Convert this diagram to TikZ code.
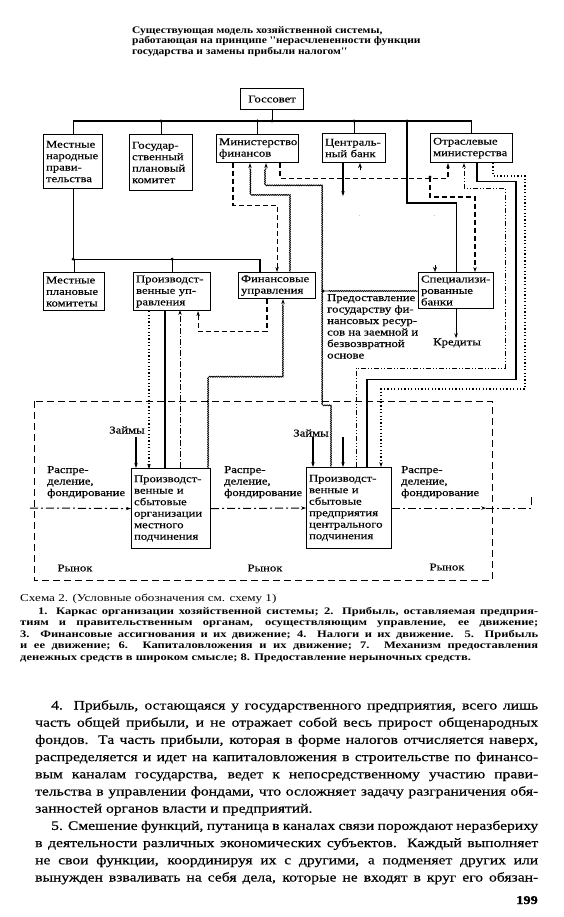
\documentclass[tikz,border=0pt]{standalone}
\usepackage{fontspec}
\setmainfont{Liberation Serif}
\newfontfamily\bxf[FakeStretch=1.22,FakeBold=0.3]{Liberation Serif}
\newfontfamily\ttlf[FakeStretch=1.15]{Liberation Serif}
\newfontfamily\capf[FakeStretch=1.25]{Liberation Serif}
\newfontfamily\bodyf[FakeStretch=1.2,FakeBold=0.4]{Liberation Serif}
\usetikzlibrary{arrows.meta,decorations.pathmorphing,calc}
\begin{document}
\begin{tikzpicture}[x=1pt,y=-1pt, >={Stealth[length=5pt,width=3.4pt]},
 frame/.style={line width=1.1pt},
 alloc/.style={line width=1.1pt, dash pattern=on 5pt off 3pt},
 tax/.style={line width=0.8pt, decorate, decoration={snake,amplitude=0.5pt,segment length=2.2pt,pre length=1pt,post length=5pt}},
 credit/.style={double, double distance=1.3pt, line width=0.6pt, dash pattern=on 5pt off 2.5pt},
 capinv/.style={line width=0.8pt, dash pattern=on 5pt off 2pt on 1pt off 2pt on 1pt off 2pt},
 profit/.style={line width=0.9pt, dash pattern=on 6pt off 2pt on 1.2pt off 2pt},
 nonm/.style={line width=1.3pt, dash pattern=on 1.2pt off 2.2pt},
 market/.style={line width=1pt, dash pattern=on 7pt off 4pt},
 distr/.style={line width=1pt, dash pattern=on 8pt off 3pt on 2pt off 3pt},
 box/.style={draw, line width=1.1pt, anchor=north west, inner xsep=2.5pt, inner ysep=1.5pt, align=left, font=\bxf\fontsize{10.4}{11.5}\selectfont},
 lbl/.style={font=\bxf\fontsize{10.4}{11.5}\selectfont, align=left, inner sep=0pt},
]
\useasboundingbox (0,0) rectangle (563,917);
\fill[white] (0,0) rectangle (563,917);

% title
\node[anchor=north west, inner sep=0pt, align=left, font=\ttlf\bfseries\fontsize{10}{10.5}\selectfont] (title) at (132,26)
 {Существующая модель хозяйственной системы,\\работающая на принципе ''нерасчлененности функции\\государства и замены прибыли налогом''};

% boxes
\node[box, text width=58pt, minimum height=21pt, align=center] (gossovet) at (240,88) {Госсовет};
\node[box, text width=54pt, minimum height=54pt] (mnp) at (43,134) {Местные\\народные\\прави-\\тельства};
\node[box, text width=58pt, minimum height=56pt] (gpk) at (129,134) {Государ-\\ственный\\плановый\\комитет};
\node[box, text width=77pt, minimum height=28pt] (minfin) at (216,134) {Министерство\\финансов};
\node[box, text width=58pt, minimum height=29pt] (cb) at (322,133) {Централь-\\ный банк};
\node[box, text width=77pt, minimum height=29pt] (otr) at (430,133) {Отраслевые\\министерства};
\node[box, text width=56pt, minimum height=38pt] (mpk) at (43,272) {Местные\\плановые\\комитеты};
\node[box, text width=72pt, minimum height=38pt] (pu) at (133,272) {Производст-\\венные уп-\\равления};
\node[box, text width=72pt, minimum height=26pt] (fu) at (238,272) {Финансовые\\управления};
\node[box, text width=70pt, minimum height=36pt] (sb) at (418,272) {Специализи-\\рованные\\банки};
\node[box, text width=74pt, minimum height=80pt] (loc) at (131,468) {Производст-\\венные и\\сбытовые\\организации\\местного\\подчинения};
\node[box, text width=80pt, minimum height=81pt] (cen) at (306,467) {Производст-\\венные и\\сбытовые\\предприятия\\центрального\\подчинения};

% labels
\node[lbl, anchor=north west] (prov) at (327,294) {Предоставление\\государству фи-\\нансовых ресур-\\сов на заемной и\\безвозвратной\\основе};
\node[lbl] (kred) at (457,343) {Кредиты};
\node[lbl] (zaim1) at (127,430) {Займы};
\node[lbl] (zaim2) at (311,433) {Займы};
\node[lbl, anchor=north west] (rasp1) at (47,466) {Распре-\\деление,\\фондирование};
\node[lbl, anchor=north west] (rasp2) at (224,466) {Распре-\\деление,\\фондирование};
\node[lbl, anchor=north west] (rasp3) at (401,466) {Распре-\\деление,\\фондирование};
\node[lbl] (ryn1) at (75,568) {Рынок};
\node[lbl] (ryn2) at (265,568) {Рынок};
\node[lbl] (ryn3) at (447,567) {Рынок};

% market frame
\draw[market] (34,401) rectangle (492,580);

% framework lines
\coordinate (bus) at (272,121);
\draw[frame] (mnp.north) |- (bus) -| (otr.north);
\draw[frame] (gossovet.south) -- (gossovet.south |- bus);
\draw[frame] (gpk.north) -- (gpk.north |- bus);
\draw[frame] (minfin.north) -- (minfin.north |- bus);
\draw[frame] (cb.north) -- (cb.north |- bus);
\coordinate (j407) at (407,121);
\draw[frame] (j407) -- ++(0,82) -| (sb.north);
\fill (gpk.north |- bus) circle (1.6pt);
\fill (minfin.north |- bus) circle (1.6pt);
\fill (bus) circle (1.6pt);
\fill (cb.north |- bus) circle (1.6pt);
\fill (j407) circle (1.6pt);
\coordinate (lbus) at ($(mnp.south)+(0,70)$);
\draw[frame] (mnp.south) -- (lbus) -| ($(fu.north west)+(22,0)$);
\draw[frame] (mpk.north) -- (mpk.north |- lbus);
\draw[frame] (pu.north) -- (pu.north |- lbus);
\fill (lbus) circle (1.6pt);
\fill (pu.north |- lbus) circle (1.6pt);
\draw[frame] ($(pu.south west)+(32,0)$) -- ++(0,158);
\draw[frame] ($(otr.south west)+(47,0)$) -- ++(0,18) -- ++(39,0) -- ++(0,198) -| ($(cen.north west)+(61,0)$);
\draw[frame,->] ($(cb.south west)+(21,0)$) -- ++(0,33);
\draw[frame,->] (sb.south) -- (kred.north -| sb.south);

% financial allocations (dashed)
\draw[alloc,->] ($(minfin.south west)+(17,0)$) -- ++(0,42) -| (fu.north);
\draw[alloc,->] ($(minfin.south west)+(64,0)$) -- ++(0,15) -| ($(otr.south west)+(18,0)$);
\draw[alloc,->] (otr.south west |- 0,177) -- ++(0,20) -| ($(sb.north west)+(57,0)$);
\fill (otr.south west |- 0,177) circle (1.6pt);
\draw[alloc,->] ($(fu.south west)+(29,0)$) -- ++(0,32) -| ($(pu.south east)+(-13,0)$);

% taxes (wavy)
\draw[tax,->] ($(fu.north west)+(52,0)$) -- ++(0,-77) -| ($(minfin.south west)+(34,0)$);
\draw[tax,->] ($(cen.north west)+(25,0)$) -- ++(0,-62) -- ++(-8,0) |- ($(minfin.south west)+(50,21)$) -- ($(minfin.south west)+(50,0)$);
\draw[tax] ($(sb.north west)+(0,19)$) -- ($(sb.north west)+(-95,19)$);
\fill ($(sb.north west)+(-95,19)$) circle (1.6pt);
\draw[tax,->] ($(loc.north east)+(-3,0)$) -- ++(0,-90) -| ($(fu.south west)+(45,0)$);

% credit (double dashed)
\draw[credit] ($(cb.south west)+(38,0)$) -- ++(0,53) -| ($(sb.north west)+(17,0)$);
\draw[line width=0.6pt,-{Stealth[open,length=5pt,width=4pt]}] ($(cb.south west)+(38,7)$) -- ($(cb.south west)+(38,0)$);
\draw[line width=0.6pt,-{Stealth[open,length=5pt,width=4pt]}] ($(sb.north west)+(17,-7)$) -- ($(sb.north west)+(17,0)$);

% capital investments
\draw[capinv,->] ($(cen.north west)+(50,0)$) -- ++(0,-99) -- ++(149,0) -- ++(0,-180) -| ($(otr.south west)+(34,0)$);
% profit
\draw[profit,->] ($(loc.north west)+(49,0)$) -- ++(0,-158);
% non-market
\draw[nonm,->] ($(pu.south west)+(16,0)$) -- ++(0,158);
\draw[nonm,->] ($(otr.south west)+(63,0)$) -- ++(0,13) -- ++(32,0) -- ++(0,213) -| ($(cen.north west)+(75,0)$);

% loans
\draw[frame,->] ($(loc.north west)+(5,-31)$) -- ($(loc.north west)+(5,0)$);
\draw[frame,->] ($(cen.north west)+(7,-30)$) -- ($(cen.north west)+(7,0)$);
\draw[frame,->] ($(cen.north west)+(37,-30)$) -- ($(cen.north west)+(37,0)$);

% distribution line
\coordinate (dl) at (30,508);
\draw[distr,->] (dl) -- (loc.west);
\draw[distr,->] (loc.east) -- (cen.west);
\draw[distr,->] (cen.east) -- ++(94,0);
\draw[distr] ($(cen.east)+(94,0)$) -- ++(45,0) -- ++(0,-12);

% caption
\node[anchor=north west, inner sep=0pt, align=left, font=\capf\fontsize{10.5}{11.5}\selectfont] (cap0) at (20,594)
 {Схема 2. (Условные обозначения см. схему 1)};
\node[anchor=north west, inner sep=0pt, align=left, font=\capf\bfseries\fontsize{10}{11.5}\selectfont] (capl) at (20,607)
 {\hspace*{18pt}\makebox[500pt][s]{1. Каркас организации хозяйственной системы; 2. Прибыль, оставляемая предприя-}\\
  \makebox[518pt][s]{тиям и правительственным органам, осуществляющим управление, ее движение;}\\
  \makebox[518pt][s]{3. Финансовые ассигнования и их движение; 4. Налоги и их движение. 5. Прибыль}\\
  \makebox[518pt][s]{и ее движение; 6. Капиталовложения и их движение; 7. Механизм предоставления}\\
  денежных средств в широком смысле; 8. Предоставление нерыночных средств.};

% body text
\node[anchor=north west, inner sep=0pt, align=left, font=\bodyf\fontsize{13}{17.2}\selectfont] (body) at (35,700)
 {\hspace*{16pt}\makebox[487pt][s]{4. Прибыль, остающаяся у государственного предприятия, всего лишь}\\
  \makebox[503pt][s]{часть общей прибыли, и не отражает собой весь прирост общенародных}\\
  \makebox[503pt][s]{фондов. Та часть прибыли, которая в форме налогов отчисляется наверх,}\\
  \makebox[503pt][s]{распределяется и идет на капиталовложения в строительстве по финансо-}\\
  \makebox[503pt][s]{вым каналам государства, ведет к непосредственному участию прави-}\\
  \makebox[503pt][s]{тельства в управлении фондами, что осложняет задачу разграничения обя-}\\
  занностей органов власти и предприятий.\\
  \hspace*{16pt}\makebox[487pt][s]{5. Смешение функций, путаница в каналах связи порождают неразбериху}\\
  \makebox[503pt][s]{в деятельности различных экономических субъектов. Каждый выполняет}\\
  \makebox[503pt][s]{не свои функции, координируя их с другими, а подменяет других или}\\
  \makebox[503pt][s]{вынужден взваливать на себя дела, которые не входят в круг его обязан-}};
\node[anchor=base east, inner sep=0pt, font=\bodyf\bfseries\fontsize{12}{12}\selectfont] (pnum) at (538,904) {199};
\end{tikzpicture}
\end{document}
